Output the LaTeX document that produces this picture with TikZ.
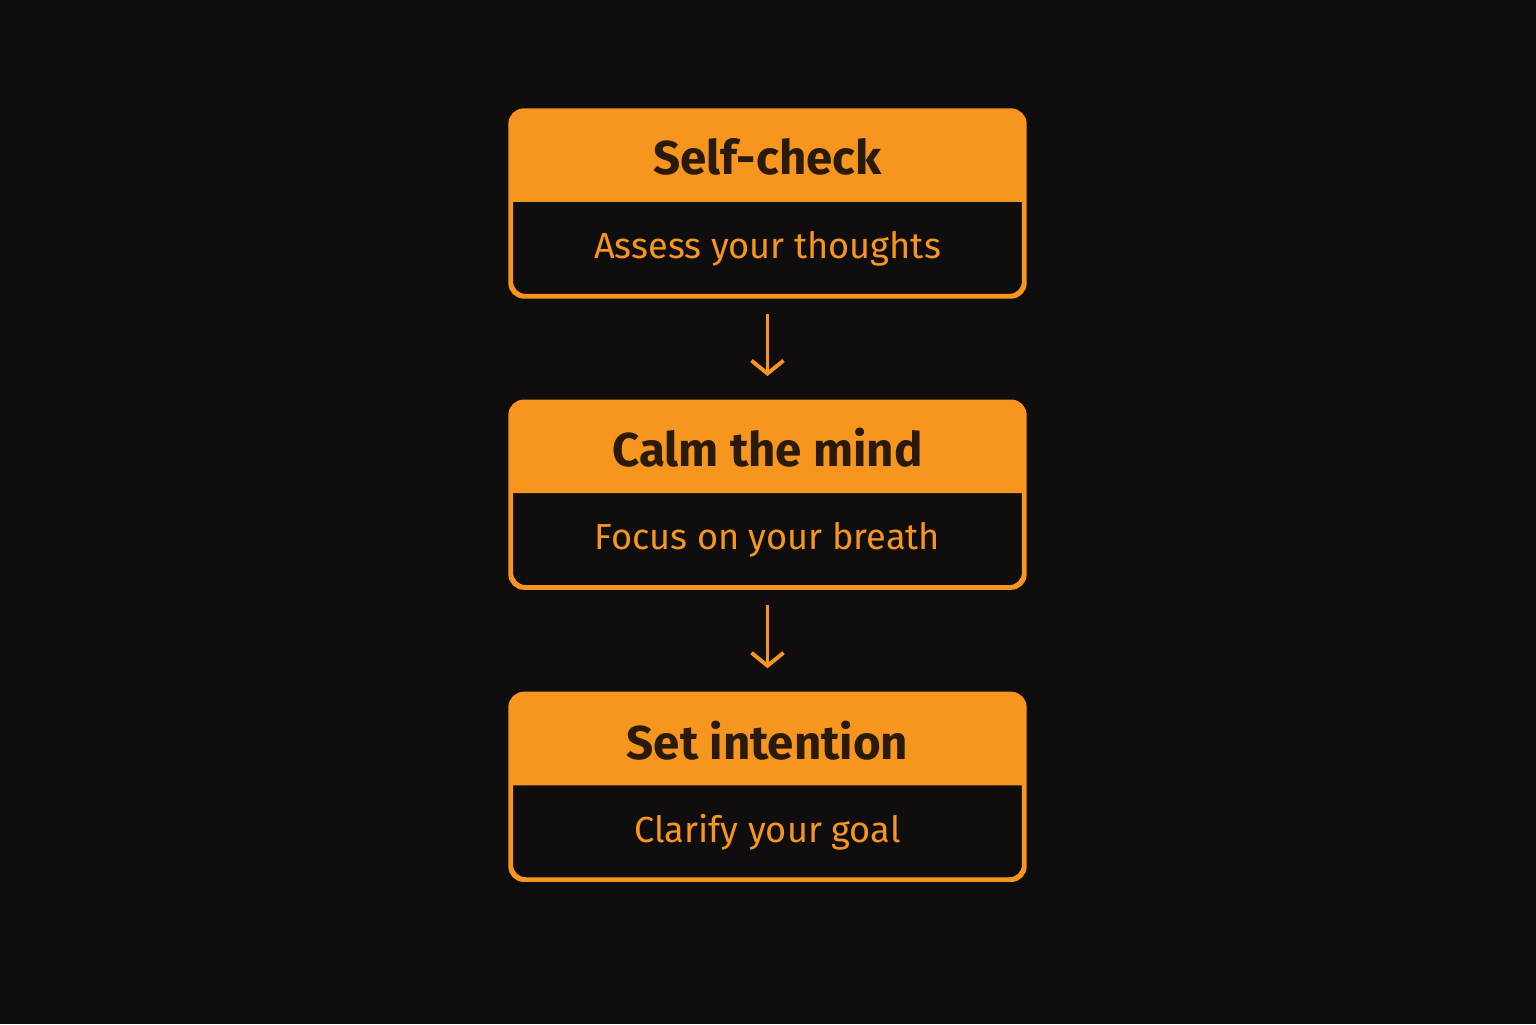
\documentclass[tikz,border=0pt]{standalone}
\usepackage{fontspec}
\setmainfont{Fira Sans}
\usetikzlibrary{positioning, arrows.meta}
\definecolor{bgdark}{HTML}{0F0D0E}
\definecolor{accent}{HTML}{F7961E}
\definecolor{hdrtext}{HTML}{2A1A0A}
\tikzset{
  stepbody/.style={draw=accent, line width=0.9pt, rounded corners=0.14cm, minimum width=5.12cm, minimum height=1.84cm},
  titletext/.style={text=hdrtext, font=\fontsize{13.5}{16}\selectfont\bfseries},
  subtext/.style={text=accent, font=\fontsize{10.3}{13}\selectfont},
  flow/.style={draw=accent, line width=1.1pt, -{Straight Barb[length=0.13cm, width=0.32cm]}, shorten <=0.17cm, shorten >=0.25cm}
}
\newcommand{\header}[1]{%
  \fill[accent] ([yshift=-0.92cm]#1.north west) [rounded corners=0.14cm] -- (#1.north west) -- (#1.north east) [sharp corners] -- ([yshift=-0.92cm]#1.north east) -- cycle;}
\begin{document}
\begin{tikzpicture}
\fill[bgdark] (0,0) rectangle (15.36,10.24);
\useasboundingbox (0,0) rectangle (15.36,10.24);

% boxes
\node[stepbody] (check) at (7.675,8.205) {};
\node[stepbody, below=1.04cm of check] (calm) {};
\node[stepbody, below=1.05cm of calm] (intent) {};

\foreach \b in {check, calm, intent} {\header{\b}}
\foreach \b in {check, calm, intent} {\draw[draw=accent, line width=0.9pt, rounded corners=0.14cm] (\b.north west) rectangle (\b.south east);}

% texts
\node[titletext] (checkT) at ([yshift=-0.47cm]check.north) {Self-check};
\node[subtext] (checkS) at ([yshift=0.48cm]check.south) {Assess your thoughts};
\node[titletext] (calmT) at ([yshift=-0.47cm]calm.north) {Calm the mind};
\node[subtext] (calmS) at ([yshift=0.48cm]calm.south) {Focus on your breath};
\node[titletext] (intentT) at ([yshift=-0.47cm]intent.north) {Set intention};
\node[subtext] (intentS) at ([yshift=0.48cm]intent.south) {Clarify your goal};

% arrows
\draw[flow] (check.south) -- (calm.north);
\draw[flow] (calm.south) -- (intent.north);
\end{tikzpicture}
\end{document}
